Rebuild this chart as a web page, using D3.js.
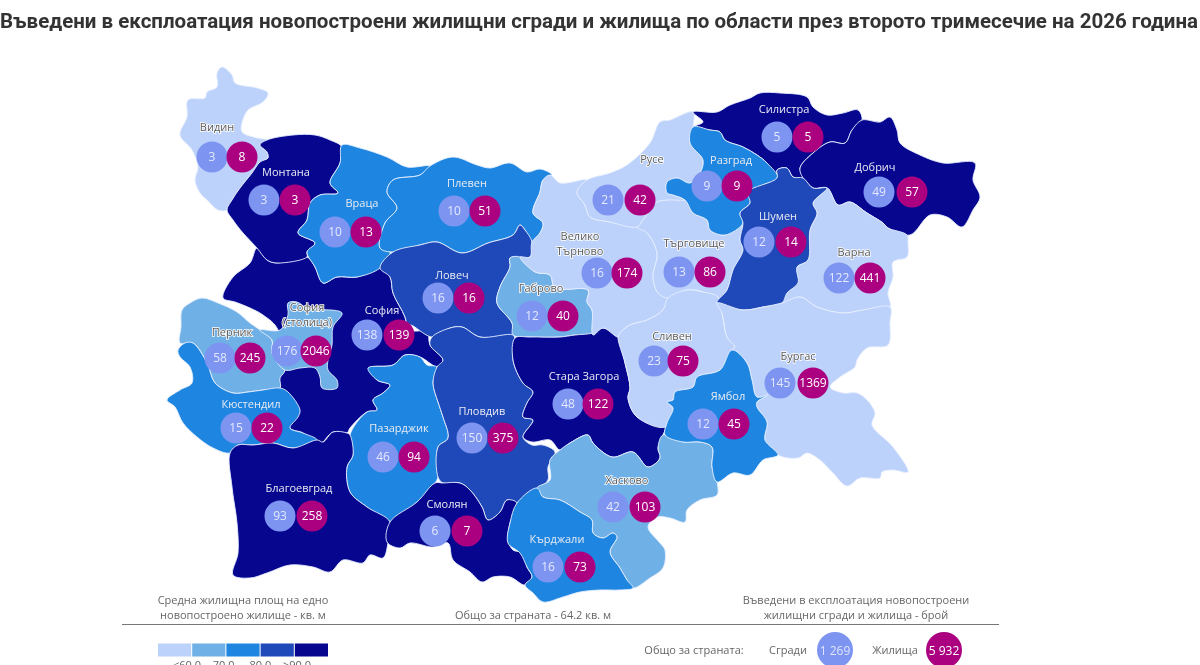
<!DOCTYPE html>
<html lang="bg">
<head>
<meta charset="utf-8">
<title>Въведени в експлоатация новопостроени жилищни сгради и жилища</title>
<script src="https://cdn.jsdelivr.net/npm/d3@7"></script>
<style>
  html, body { margin: 0; padding: 0; background: #fff; overflow: hidden; }
  svg { display: block; filter: blur(0.4px); }
  text { font-family: "Open Sans", "Noto Sans", sans-serif; }
</style>
</head>
<body>
<svg width="1200" height="665"></svg>
<script>
const titleText = "Въведени в експлоатация новопостроени жилищни сгради и жилища по области през второто тримесечие на 2026 година";

// names, drawing order is back to front
const regions = ["София", "Видин", "Монтана", "Враца", "Плевен", "Ловеч", "Габрово", "Перник", "София (столица)", "Кюстендил",
  "Пазарджик", "Благоевград", "Пловдив", "Смолян", "Стара Загора", "Хасково", "Кърджали", "Велико Търново", "Търговище", "Сливен",
  "Русе", "Силистра", "Разград", "Добрич", "Варна", "Шумен", "Бургас", "Ямбол"];
const buildings = [138, 3, 3, 10, 10, 16, 12, 58, 176, 15, 46, 93, 150, 6, 48, 42, 16, 16, 13, 23, 21, 5, 9, 49, 122, 12, 145, 12];
const dwellings = [139, 8, 3, 13, 51, 16, 40, 245, 2046, 22, 94, 258, 375, 7, 122, 103, 73, 174, 86, 75, 42, 5, 9, 57, 441, 14, 1369, 45];
// index into classColors (average area per new dwelling)
const areaClass = [4, 0, 4, 2, 2, 3, 1, 1, 1, 2, 2, 4, 3, 4, 4, 1, 2, 0, 0, 0, 0, 4, 2, 4, 0, 3, 0, 2];

const classLabels = ["<60.0", "70.0", "80.0", ">90.0"];
const classColors = ["#bcd2fb", "#6fb0e6", "#1e86e0", "#1f48b8", "#06068f"];

const totalBuildings = "1 269";
const totalDwellings = "5 932";
const totalArea = "Общо за страната - 64.2 кв. м";

// region outlines, in picture units
const outlines = {
  "София": [[257,248],[267,260],[277,263],[307,257],[315,267],[323,283],[337,277],[357,277],[380,268],[390,277],[393,293],[405,317],[408,330],[427,332],[430,345],[443,360],[438,367],[420,357],[405,355],[393,365],[370,368],[377,380],[390,385],[383,393],[373,400],[377,410],[367,412],[350,428],[347,433],[333,432],[323,442],[317,447],[303,433],[290,428],[280,388],[278,330],[263,315],[250,308],[235,302],[223,298],[233,277],[250,263]],
  "Видин": [[222,67],[232,75],[235,83],[257,88],[268,93],[263,102],[248,110],[242,123],[242,132],[257,138],[267,140],[260,145],[267,152],[268,158],[260,162],[252,173],[240,188],[232,200],[227,210],[218,210],[207,200],[200,193],[195,180],[198,167],[192,150],[180,135],[187,117],[188,100],[205,98],[207,92],[217,87],[217,73]],
  "Монтана": [[267,140],[293,135],[315,135],[330,140],[342,147],[340,163],[330,183],[338,193],[320,195],[310,203],[307,220],[298,233],[315,243],[307,252],[307,257],[277,263],[267,260],[257,248],[243,233],[233,220],[227,210],[232,200],[240,188],[252,173],[260,162],[268,158],[267,152],[260,145]],
  "Враца": [[342,145],[360,148],[387,157],[407,167],[430,166],[420,175],[393,180],[387,192],[397,208],[385,223],[380,248],[390,252],[380,268],[357,277],[337,277],[323,283],[315,267],[307,252],[315,243],[298,233],[307,220],[310,203],[320,195],[338,193],[330,183],[340,163]],
  "Плевен": [[430,166],[453,157],[477,165],[490,168],[510,163],[527,172],[540,169],[552,175],[543,180],[540,192],[533,213],[543,223],[540,233],[532,242],[525,230],[520,225],[513,235],[488,243],[462,253],[437,242],[420,245],[393,252],[380,248],[385,223],[397,208],[387,192],[393,180],[420,175]],
  "Ловеч": [[393,252],[420,245],[437,242],[462,253],[488,243],[513,235],[520,225],[525,230],[532,242],[530,257],[510,258],[510,267],[500,287],[497,303],[512,323],[513,335],[480,337],[462,327],[450,328],[432,337],[410,325],[408,330],[405,317],[393,293],[390,277],[380,268]],
  "Габрово": [[510,258],[520,257],[535,272],[550,275],[555,288],[588,290],[587,302],[592,310],[593,335],[575,335],[560,337],[530,337],[513,335],[512,323],[497,303],[500,287],[510,267]],
  "Перник": [[182,310],[190,303],[202,298],[218,303],[237,312],[250,323],[260,330],[272,340],[272,353],[285,370],[280,378],[280,388],[263,390],[248,392],[233,393],[215,383],[207,363],[193,343],[180,343],[181,327]],
  "София (столица)": [[260,330],[280,330],[288,315],[288,303],[297,302],[307,308],[342,313],[333,327],[332,345],[328,360],[328,370],[337,380],[337,388],[322,388],[320,377],[315,368],[300,368],[285,370],[272,353],[272,340]],
  "Кюстендил": [[185,343],[178,350],[180,357],[190,367],[192,383],[180,390],[167,400],[175,407],[183,423],[197,437],[213,448],[230,453],[238,445],[253,445],[273,443],[293,448],[317,440],[303,433],[290,428],[298,417],[300,410],[288,392],[280,388],[263,390],[248,392],[233,393],[215,383],[207,363],[193,343]],
  "Пазарджик": [[368,368],[393,365],[405,355],[420,357],[427,365],[437,367],[433,383],[438,402],[443,417],[448,438],[438,447],[438,477],[435,483],[417,502],[390,522],[367,507],[350,492],[347,467],[353,455],[350,435],[367,412],[377,410],[373,400],[383,393],[390,385],[377,380]],
  "Благоевград": [[230,453],[238,445],[253,445],[273,443],[293,448],[317,440],[323,442],[333,432],[347,433],[350,435],[353,455],[347,467],[350,492],[367,507],[390,522],[388,543],[383,558],[370,555],[363,563],[343,560],[330,572],[313,567],[290,565],[267,573],[250,578],[233,575],[238,553],[237,523],[232,487]],
  "Пловдив": [[432,337],[450,328],[462,327],[480,337],[513,335],[515,340],[513,360],[523,383],[533,392],[527,403],[523,417],[533,420],[523,437],[532,445],[543,445],[555,452],[548,467],[548,480],[537,490],[517,503],[507,500],[500,512],[488,520],[482,507],[470,490],[460,483],[443,483],[438,477],[438,447],[448,438],[443,417],[438,402],[433,383],[437,367],[443,360],[430,345]],
  "Смолян": [[390,522],[417,502],[435,483],[443,483],[460,483],[470,490],[482,507],[488,520],[500,512],[507,500],[517,503],[510,523],[508,540],[513,550],[523,553],[527,567],[532,577],[525,585],[510,577],[493,577],[482,582],[470,572],[453,560],[448,543],[433,547],[410,543],[400,548],[387,542]],
  "Стара Загора": [[515,338],[530,337],[560,337],[575,335],[593,333],[603,328],[618,337],[625,363],[630,388],[628,398],[637,417],[665,427],[663,435],[658,448],[660,458],[648,467],[633,452],[612,457],[593,443],[588,435],[570,443],[560,450],[550,440],[532,442],[523,437],[533,420],[523,417],[527,403],[533,392],[523,383],[513,360]],
  "Хасково": [[550,460],[560,450],[570,443],[588,435],[593,443],[612,457],[633,452],[648,467],[660,458],[658,448],[663,435],[683,442],[700,442],[712,447],[712,467],[717,482],[717,495],[700,500],[687,510],[685,522],[670,518],[657,517],[648,527],[660,543],[665,550],[663,568],[650,578],[633,588],[627,580],[620,568],[610,552],[617,537],[613,533],[603,538],[593,533],[592,520],[580,512],[560,500],[543,497],[537,488],[550,480]],
  "Кърджали": [[537,488],[543,497],[560,500],[580,512],[592,520],[593,533],[603,538],[613,533],[617,537],[610,552],[620,568],[627,580],[633,588],[620,590],[600,590],[580,592],[563,597],[543,602],[533,593],[525,585],[532,577],[527,567],[520,553],[508,543],[510,523],[517,503]],
  "Велико Търново": [[550,175],[560,183],[587,180],[577,192],[585,205],[590,217],[610,222],[637,227],[647,233],[657,253],[653,277],[658,293],[668,298],[663,310],[647,320],[630,325],[620,333],[618,337],[603,328],[593,335],[592,310],[587,302],[588,290],[555,288],[550,275],[535,272],[520,257],[530,257],[532,242],[540,233],[543,223],[533,213],[540,192],[543,180]],
  "Търговище": [[637,227],[643,220],[657,202],[667,200],[685,200],[693,213],[707,220],[710,230],[725,235],[743,223],[740,240],[743,250],[733,270],[727,290],[717,303],[703,292],[687,290],[668,298],[658,293],[653,277],[657,253],[647,233]],
  "Сливен": [[618,337],[620,333],[630,325],[647,320],[663,310],[668,298],[687,290],[703,292],[718,297],[722,313],[727,337],[735,347],[732,350],[720,370],[697,377],[693,387],[675,392],[673,400],[667,402],[673,408],[665,427],[637,417],[628,398],[630,388],[625,363]],
  "Русе": [[693,112],[670,120],[660,122],[650,143],[627,165],[610,173],[587,180],[577,192],[585,205],[590,217],[610,222],[637,227],[643,220],[657,202],[667,200],[685,200],[673,195],[667,193],[667,182],[677,178],[690,183],[700,173],[703,160],[690,143],[693,127]],
  "Силистра": [[693,112],[717,112],[730,105],[750,98],[760,93],[780,93],[807,97],[813,107],[827,115],[843,113],[858,110],[862,120],[852,130],[845,143],[830,142],[813,153],[800,168],[803,178],[793,177],[787,168],[777,170],[778,178],[767,163],[757,155],[743,147],[725,140],[720,132],[710,130],[693,127],[703,122]],
  "Разград": [[693,127],[710,130],[720,132],[725,140],[743,147],[757,155],[767,163],[778,178],[763,185],[750,192],[750,203],[740,213],[743,223],[725,235],[710,230],[707,220],[693,213],[685,200],[673,195],[667,193],[667,182],[677,178],[690,183],[700,173],[703,160],[690,143]],
  "Добрич": [[862,120],[880,122],[890,117],[897,130],[900,143],[920,155],[943,163],[975,163],[973,180],[980,197],[973,210],[962,227],[947,217],[930,215],[910,235],[888,228],[883,223],[867,213],[850,202],[838,205],[827,188],[813,188],[803,178],[800,168],[813,153],[830,142],[845,143],[852,130]],
  "Варна": [[827,188],[838,205],[850,202],[867,213],[883,223],[888,228],[907,235],[908,243],[907,257],[893,262],[893,277],[888,293],[890,307],[863,310],[843,313],[817,307],[800,297],[783,303],[797,267],[808,260],[810,230],[817,213],[813,203]],
  "Шумен": [[777,170],[787,168],[793,177],[803,178],[813,188],[827,188],[813,203],[817,213],[810,230],[808,260],[797,267],[798,283],[787,293],[782,303],[763,307],[743,310],[717,303],[727,290],[733,270],[743,250],[740,240],[743,223],[740,213],[750,203],[748,192],[777,178]],
  "Бургас": [[717,303],[743,310],[763,307],[782,303],[800,297],[817,307],[843,313],[863,310],[890,307],[890,323],[888,345],[867,348],[857,360],[855,367],[840,377],[830,387],[843,393],[857,393],[867,400],[875,413],[872,425],[893,447],[908,472],[893,470],[882,472],[880,478],[860,478],[847,486],[833,473],[820,460],[807,453],[798,458],[778,455],[765,440],[767,422],[757,407],[757,402],[768,395],[757,397],[752,380],[747,363],[732,350],[735,347],[727,337],[722,313]],
  "Ямбол": [[732,350],[747,363],[752,380],[757,397],[768,395],[757,402],[757,407],[767,422],[765,440],[778,455],[763,460],[750,475],[733,473],[717,482],[712,467],[712,447],[700,442],[683,442],[665,435],[667,423],[673,408],[667,402],[673,400],[675,392],[693,387],[697,377],[720,370]]
};

// bubble pair centres [x light, x dark, y] and label anchor [x, y], same units as outlines
const bubbleAnchors = [[367,399,335],[212,242,157],[264,295,200],[335,366,232],[454,485,211],[438,469,298],[532,563,316],[220,250,358],[287,316,351],[236,267,428],[383,414,457],[280,312,516],[472,503,438],[435,467,531],[568,598,404],[613,645,507],[548,580,567],[597,627,273],[679,710,272],[654,683,361],[608,640,200],[777,808,137],[707,737,186],[879,912,192],[839,870,278],[759,791,242],[780,813,383],[703,734,424]];
const labelAnchors = [[382,310],[217,127],[286,172],[362,203],[467,183],[452,275],[541,288],[232,332],[307,307],[251,404],[399,428],[299,488],[482,411],[447,504],[584,376],[627,480],[557,539],[580,236],[694,243],[672,336],[652,159],[784,109],[731,160],[875,167],[854,252],[778,216],[798,356],[728,396]];

const svg = d3.select("svg");
const mapLayer = svg.append("g");
const bubbleLayer = svg.append("g");
const textLayer = svg.append("g");

const outline = d3.line().curve(d3.curveCatmullRomClosed.alpha(0.5));
const color = d3.scaleOrdinal().domain(d3.range(classColors.length)).range(classColors);
const bubbleR = 15.5;
const lightBubble = "#7d95f1";
const darkBubble = "#ab0080";

svg.append("text")
  .attr("x", 0)
  .attr("y", 28)
  .attr("font-size", 20.5)
  .attr("font-weight", 700)
  .attr("fill", "#333")
  .style("font-family", "Roboto, sans-serif")
  .text(titleText);

// map
mapLayer.selectAll("path")
  .data(regions)
  .enter()
  .append("path")
  .attr("d", d => outline(outlines[d]))
  .attr("fill", (d, i) => color(areaClass[i]))
  .attr("stroke", "#e6eeff")
  .attr("stroke-width", 0.9)
  .attr("stroke-linejoin", "round");

// bubbles
bubbleLayer.selectAll("circle.b")
  .data(regions)
  .enter()
  .append("circle")
  .attr("class", "b")
  .attr("cx", (d, i) => bubbleAnchors[i][0])
  .attr("cy", (d, i) => bubbleAnchors[i][2])
  .attr("r", bubbleR)
  .attr("fill", lightBubble);

bubbleLayer.selectAll("circle.d")
  .data(regions)
  .enter()
  .append("circle")
  .attr("class", "d")
  .attr("cx", (d, i) => bubbleAnchors[i][1])
  .attr("cy", (d, i) => bubbleAnchors[i][2])
  .attr("r", bubbleR)
  .attr("fill", darkBubble);

function bubbleText(sel, xi, values) {
  sel.selectAll(null)
    .data(values)
    .enter()
    .append("text")
    .attr("x", (d, i) => bubbleAnchors[i][xi])
    .attr("y", (d, i) => bubbleAnchors[i][2] + 4.3)
    .attr("text-anchor", "middle")
    .attr("font-size", 12)
    .attr("fill", xi === 0 ? "#e4e9ff" : "#fff")
    .text(d => d);
}
bubbleText(textLayer, 0, buildings);
bubbleText(textLayer, 1, dwellings);

// region names, two liners get a line break
const labelLines = { "Велико Търново": ["Велико", "Търново"], "София (столица)": ["София", "(столица)"] };

regions.forEach((name, i) => {
  let lines = labelLines[name] || [name];
  let dark = areaClass[i] < 2;
  lines.forEach((line, k) => {
    textLayer.append("text")
      .attr("x", labelAnchors[i][0])
      .attr("y", labelAnchors[i][1] + 4 + k * 15)
      .attr("text-anchor", "middle")
      .attr("font-size", 11)
      .attr("fill", dark ? "#5a5a5a" : "#e9ebf2")
      .attr("stroke", dark ? "#ffffff" : "none")
      .attr("stroke-width", dark ? 1.6 : 0)
      .attr("paint-order", "stroke")
      .text(line);
  });
});

// footer
svg.append("line")
  .attr("x1", 122).attr("x2", 999)
  .attr("y1", 624.5).attr("y2", 624.5)
  .attr("stroke", "#777")
  .attr("stroke-width", 1);

function note(x, y, str, size) {
  svg.append("text")
    .attr("x", x).attr("y", y)
    .attr("text-anchor", "middle")
    .attr("font-size", size || 11)
    .attr("fill", "#666")
    .text(str);
}
note(243, 604, "Средна жилищна площ на едно");
note(243, 619, "новопостроено жилище - кв. м");
note(533, 619, totalArea);
note(856, 604, "Въведени в експлоатация новопостроени");
note(856, 619, "жилищни сгради и жилища - брой");
note(694, 654, "Общо за страната:");
note(788, 654, "Сгради");
note(895, 654, "Жилища");

// legend swatches
const swatch = d3.scaleBand().domain(d3.range(classColors.length)).range([158, 328]).paddingInner(0.03);
svg.append("g").selectAll("rect")
  .data(classColors)
  .enter()
  .append("rect")
  .attr("x", (d, i) => swatch(i))
  .attr("y", 643.5)
  .attr("width", swatch.bandwidth())
  .attr("height", 13)
  .attr("fill", d => d);

const legendX = d3.scalePoint().domain(classLabels).range([187, 297]);
svg.append("g").selectAll("text")
  .data(classLabels)
  .enter()
  .append("text")
  .attr("x", d => legendX(d))
  .attr("y", 668.5)
  .attr("text-anchor", "middle")
  .attr("font-size", 11)
  .attr("fill", "#666")
  .text(d => d);

// country totals
[[835, lightBubble, totalBuildings, "#dfe5ff"], [944, darkBubble, totalDwellings, "#fff"]].forEach(t => {
  svg.append("circle").attr("cx", t[0]).attr("cy", 650).attr("r", 18).attr("fill", t[1]);
  svg.append("text")
    .attr("x", t[0]).attr("y", 654.5)
    .attr("text-anchor", "middle")
    .attr("font-size", 12)
    .attr("fill", t[3])
    .text(t[2]);
});
</script>
</body>
</html>
